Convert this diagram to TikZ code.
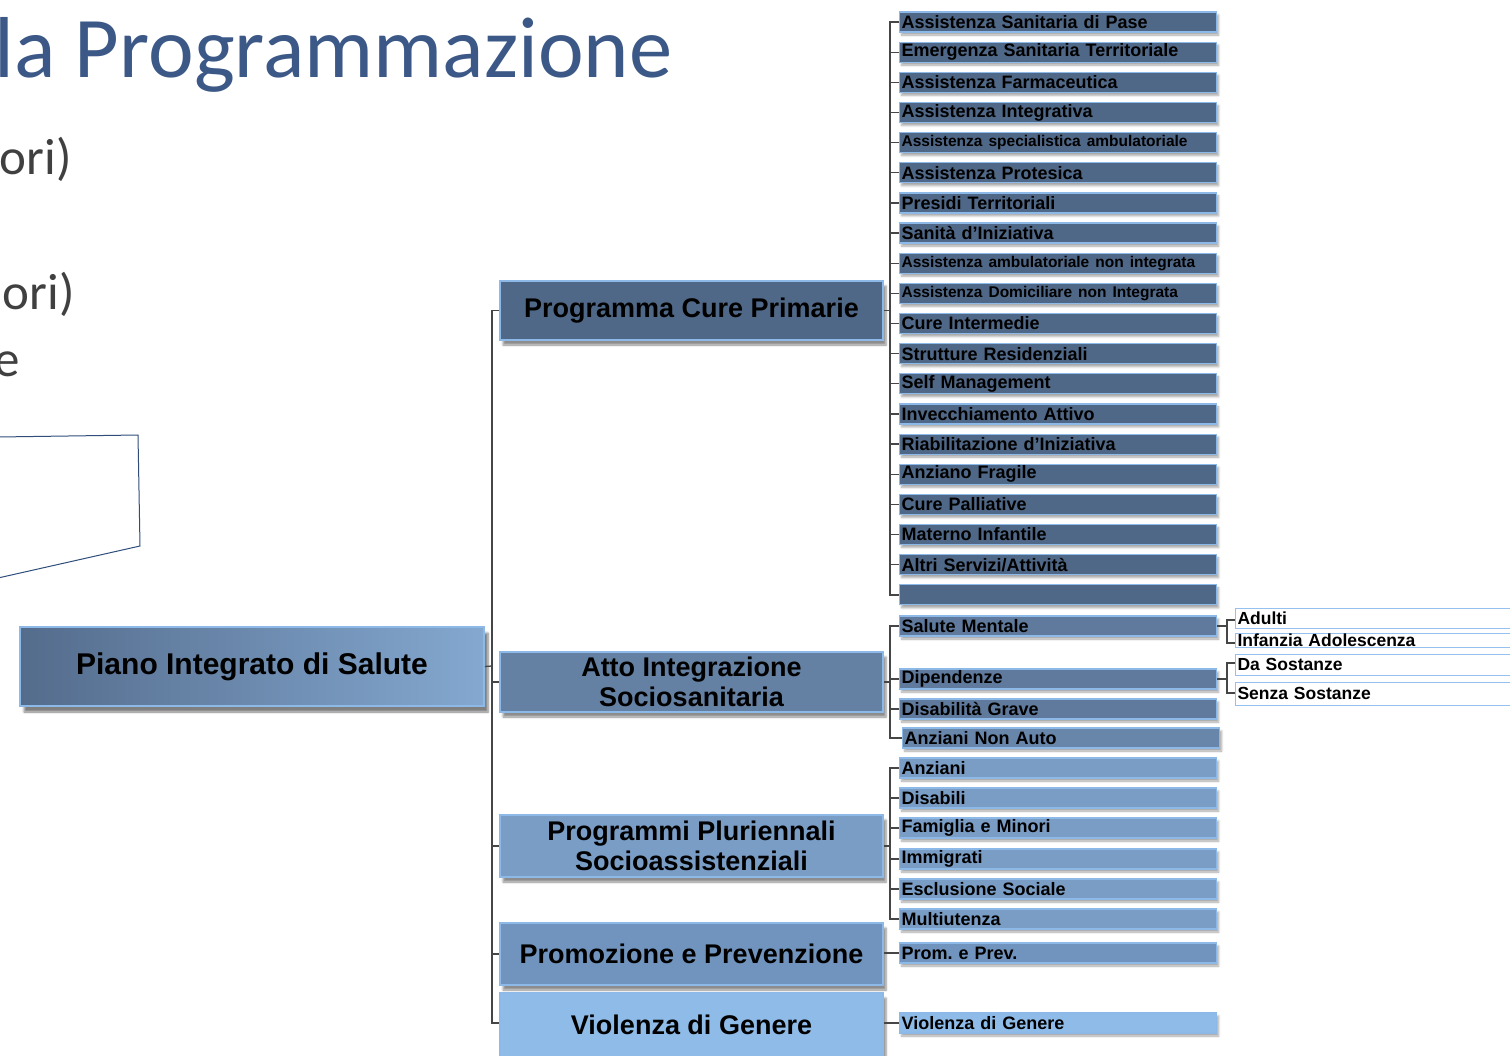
\documentclass[tikz,border=0pt]{standalone}
\usepackage{fontspec}
\setmainfont{Liberation Sans}
\newfontfamily\titlefont{Carlito}
\usetikzlibrary{shadows.blur}
\definecolor{titlec}{RGB}{60,88,135}
\definecolor{bodyc}{RGB}{64,64,64}
\definecolor{polyc}{RGB}{46,77,122}
\definecolor{bordc}{RGB}{140,185,232}
\definecolor{linec}{RGB}{70,70,70}
\definecolor{cpc}{RGB}{80,104,135}
\definecolor{aic}{RGB}{100,128,162}
\definecolor{ppc}{RGB}{122,157,198}
\definecolor{prc}{RGB}{112,148,190}
\definecolor{vgc}{RGB}{143,187,232}
\definecolor{g2c}{RGB}{95,122,156}
\definecolor{subb}{RGB}{150,192,240}
\tikzset{
  mainbox/.style={draw=bordc, line width=1.6pt, minimum width=383pt, align=center,
    inner sep=0pt, font=\fontsize{27pt}{30pt}\selectfont\bfseries,
    blur shadow={shadow xshift=3pt, shadow yshift=-5pt, shadow blur steps=6, shadow opacity=45}},
  leaf/.style={draw=bordc, line width=1.2pt, minimum height=20pt, text width=313pt,
    inner xsep=2pt, inner ysep=0pt, align=left, anchor=west,
    font=\fontsize{18pt}{19pt}\selectfont\bfseries,
    blur shadow={shadow xshift=2pt, shadow yshift=-3pt, shadow blur steps=4, shadow opacity=35}},
  subbox/.style={draw=subb, line width=1pt, fill=white, minimum width=290pt, text width=286pt,
    inner xsep=2pt, inner ysep=0pt, align=left, anchor=west,
    font=\fontsize{17.5pt}{18pt}\selectfont\bfseries},
  conn/.style={draw=linec, line width=1.3pt},
  bodytxt/.style={anchor=base east, inner sep=0pt, text=bodyc, font=\titlefont\fontsize{51pt}{55pt}\selectfont}
}
\newcommand{\smallleaf}{\fontsize{15.5pt}{17pt}\selectfont}
\begin{document}
\begin{tikzpicture}[x=1pt,y=-1pt]
\useasboundingbox (0,0) rectangle (1510,1055);
\clip (0,0) rectangle (1510,1055);
% title and clipped slide text
\node[anchor=base west, inner sep=0pt, text=titlec, font=\titlefont\fontsize{86.5pt}{90pt}\selectfont] (title) at (-6,77) {la Programmazione};
\node[bodytxt] (t1) at (72,174) {ori)};
\node[bodytxt] (t2) at (75,309) {ori)};
\node[bodytxt] (t3) at (20,376) {e};
\draw[polyc, line width=1pt] (-2,437) -- (138,435) -- (140,546) -- (-2,578);

% root
\node[draw=bordc, line width=1.6pt, left color={rgb,255:red,84;green,108;blue,140}, right color={rgb,255:red,132;green,168;blue,208},
  minimum width=464pt, minimum height=79pt, inner sep=0pt, font=\fontsize{30pt}{33pt}\selectfont\bfseries,
  blur shadow={shadow xshift=4pt, shadow yshift=-6pt, shadow blur steps=6, shadow opacity=50}] (piano) at (252,666.5) {Piano Integrato di Salute};

% main boxes
\node[mainbox, fill=cpc, minimum height=59pt] (cp) at (691.5,310.5) {Programma Cure Primarie};
\node[mainbox, fill=aic, minimum height=60pt] (ai) at (691.5,682) {Atto Integrazione\\Sociosanitaria};
\node[mainbox, fill=ppc, minimum height=62pt] (pp) at (691.5,846) {Programmi Pluriennali\\Socioassistenziali};
\node[mainbox, fill=prc, minimum height=62pt] (pr) at (691.5,954) {Promozione e Prevenzione};
\node[mainbox, fill=vgc, minimum height=64pt] (vg) at (691.5,1025) {Violenza di Genere};

% main tree connectors
\coordinate (j0) at (492,666);
\draw[conn] (piano.east) -- (j0);
\draw[conn] (cp.west) -- (cp.west -| j0) -- (0,1023 -| j0) -- (vg.west |- 0,1023);
\draw[conn] (ai.west) -- (ai.west -| j0);
\draw[conn] (pp.west) -- (pp.west -| j0);
\draw[conn] (pr.west) -- (pr.west -| j0);

% group 1 leaves
\foreach \i/\t in {1/{Assistenza Sanitaria di Pase},2/{Emergenza Sanitaria Territoriale},3/{Assistenza Farmaceutica},
  4/{Assistenza Integrativa},5/{\smallleaf Assistenza specialistica ambulatoriale},6/{Assistenza Protesica},
  7/{Presidi Territoriali},8/{Sanità d’Iniziativa},9/{\smallleaf Assistenza ambulatoriale non integrata},
  10/{\smallleaf Assistenza Domiciliare non Integrata},11/{Cure Intermedie},12/{Strutture Residenziali},
  13/{Self Management},14/{Invecchiamento Attivo},15/{Riabilitazione d’Iniziativa},16/{Anziano Fragile},
  17/{Cure Palliative},18/{Materno Infantile},19/{Altri Servizi/Attività},20/{}}
  {\node[leaf, fill=cpc] (l\i) at (899,{22+30.15*(\i-1)}) {\t};}
\coordinate (j1) at (890,310.5);
\draw[conn] (cp.east) -- (j1);
\draw[conn] (l1.west) -- (l1.west -| j1) -- (l20.west -| j1) -- (l20.west);
\foreach \i in {2,...,19} {\draw[conn] (l\i.west) -- (l\i.west -| j1);}

% group 2 leaves
\node[leaf, fill=g2c] (sm) at (899,626) {Salute Mentale};
\node[leaf, fill=g2c] (dip) at (899,679) {Dipendenze};
\node[leaf, fill=g2c] (dg) at (899,709) {Disabilità Grave};
\node[leaf, fill={rgb,255:red,104;green,133;blue,170}] (ana) at (902,738) {Anziani Non Auto};
\coordinate (j2) at (890,682);
\draw[conn] (ai.east) -- (j2);
\draw[conn] (sm.west) -- (sm.west -| j2) -- (ana.west -| j2) -- (ana.west);
\draw[conn] (dip.west) -- (dip.west -| j2);
\draw[conn] (dg.west) -- (dg.west -| j2);

% sub items
\node[subbox, minimum height=20pt] (ad) at (1235,618) {Adulti};
\node[subbox, minimum height=14pt] (ia) at (1235,640) {Infanzia Adolescenza};
\node[subbox, minimum height=21pt] (ds) at (1235,664.5) {Da Sostanze};
\node[subbox, minimum height=23pt] (ss) at (1235,693.5) {Senza Sostanze};
\coordinate (k1) at (1227,626);
\draw[conn, line width=1.1pt] (sm.east) -- (k1);
\draw[conn, line width=1.1pt] (ad.west |- 0,620) -- (k1 |- 0,620) -- (k1 |- 0,643) -- (ia.west |- 0,643);
\coordinate (k2) at (1227,679);
\draw[conn, line width=1.1pt] (dip.east) -- (k2);
\draw[conn, line width=1.1pt] (ds.west |- 0,663) -- (k2 |- 0,663) -- (k2 |- 0,693) -- (ss.west |- 0,693);

% group 3 leaves
\foreach \i/\t/\y in {1/Anziani/768,2/Disabili/798,3/{Famiglia e Minori}/828,4/Immigrati/859,5/{Esclusione Sociale}/889,6/Multiutenza/919}
  {\node[leaf, fill=ppc] (p\i) at (899,\y) {\t};}
\coordinate (j3) at (890,846);
\draw[conn] (pp.east) -- (j3);
\draw[conn] (p1.west) -- (p1.west -| j3) -- (p6.west -| j3) -- (p6.west);
\foreach \i in {2,...,5} {\draw[conn] (p\i.west) -- (p\i.west -| j3);}

% group 4, 5
\node[leaf, fill=prc] (pv) at (899,953) {Prom.\ e Prev.};
\draw[conn] (pr.east |- pv.west) -- (pv.west);
\node[leaf, fill=vgc] (vl) at (899,1023) {Violenza di Genere};
\draw[conn] (vg.east |- vl.west) -- (vl.west);
\end{tikzpicture}
\end{document}
